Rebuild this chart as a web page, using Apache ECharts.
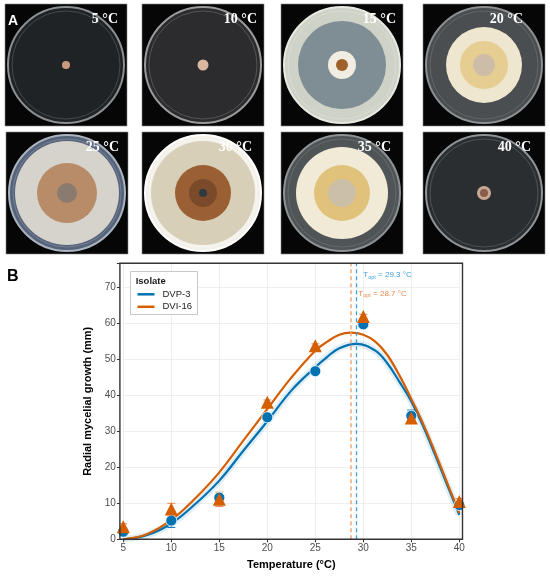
<!DOCTYPE html>
<html>
<head>
    <meta charset="UTF-8">
    <title>Radial mycelial growth</title>
    <script src="https://cdn.jsdelivr.net/npm/echarts@6/dist/echarts.min.js"></script>
    <style>
        html, body { margin: 0; padding: 0; background: #fff; }
    </style>
</head>
<body>
    <div id="main" style="width: 550px;height:577px;"></div>
    <script type="text/javascript">
        var temps = [5, 10, 15, 20, 25, 30, 35, 40];
        var dvp3Mean = [2.1, 5.2, 11.6, 33.9, 46.7, 59.7, 34.3, 9.5];
        var dvp3Sd = [0.6, 1.9, 0.6, 0.6, 0.6, 0.4, 1.6, 0.6];
        var dvi16Mean = [3.5, 8.4, 11.1, 38.1, 53.8, 61.9, 33.7, 10.5];
        var dvi16Sd = [0.8, 1.6, 2.0, 0.6, 0.5, 0.6, 0.5, 0.8];

        // 拟合曲线
        var fitTDvp3 = [5, 7.5, 10, 12.5, 15, 17.5, 20, 22.5, 25, 26.25, 27.5, 29.3, 31.25, 32.5, 33.75, 35, 36.25, 37.5, 38.75, 40];
        var fitDvp3 = [0, 1.2, 4.4, 9.8, 16.3, 24.6, 32.8, 41.3, 47.8, 50.7, 53.1, 54.3, 52.4, 48.9, 43.8, 38.3, 31.3, 23.3, 15.0, 6.8];
        var fitTDvi16 = [5, 7.5, 10, 12.5, 15, 17.5, 20, 22.5, 25, 26.25, 27.5, 28.7, 30, 31.25, 32.5, 33.75, 35, 36.25, 37.5, 38.75, 40];
        var fitDvi16 = [0, 1.5, 5.4, 11.4, 18.6, 27.4, 36.2, 44.9, 52.4, 54.9, 56.8, 57.4, 56.8, 54.9, 51.2, 45.6, 39.0, 32.0, 24.0, 15.6, 7.3];

        var toptDvp3 = 29.3;
        var toptDvi16 = 28.7;

        var xTicks = [5, 10, 15, 20, 25, 30, 35, 40];
        var yTicks = [0, 10, 20, 30, 40, 50, 60, 70];
        var plateLabels = ['5 °C', '10 °C', '15 °C', '20 °C', '25 °C', '30 °C', '35 °C', '40 °C'];

        var BLUE = '#0072B2';
        var ORANGE = '#D55E00';
        var FONT = 'Liberation Sans, Arial, sans-serif';

        function pairs(xs, ys) {
            return xs.map(function (x, i) { return [x, ys[i]]; });
        }
        function errData(means, sds) {
            return temps.map(function (t, i) { return [t, means[i] - sds[i], means[i] + sds[i]]; });
        }
        function errBar(color) {
            return function (params, api) {
                var lo = api.coord([api.value(0), api.value(1)]);
                var hi = api.coord([api.value(0), api.value(2)]);
                var w = 4;
                var st = { stroke: color, lineWidth: 1 };
                return {
                    type: 'group',
                    children: [
                        { type: 'line', shape: { x1: lo[0], y1: lo[1], x2: hi[0], y2: hi[1] }, style: st },
                        { type: 'line', shape: { x1: lo[0] - w, y1: lo[1], x2: lo[0] + w, y2: lo[1] }, style: st },
                        { type: 'line', shape: { x1: hi[0] - w, y1: hi[1], x2: hi[0] + w, y2: hi[1] }, style: st }
                    ]
                };
            };
        }

        // A 面板：培养皿照片的示意图
        var plateBoxes = [
            [5, 4], [142, 4], [281, 4], [423, 4],
            [6, 132], [142, 132], [281, 132], [423, 132]
        ];
        var plateStyle = [
            { dish: '#202326', rim: '#8a8f92', layers: [[4, '#c99a7d']], lx: 9 },
            { dish: '#2c2b2e', rim: '#9a9a9a', layers: [[5.5, '#d9b8a0']], lx: 7 },
            { dish: '#cfd2c6', rim: '#e8eae2', layers: [[44, '#7f8d95'], [14, '#f1ede2'], [6, '#a0602c']], lx: 7 },
            { dish: '#4a4e50', rim: '#8c8f90', layers: [[38, '#efe6cf'], [24, '#e6cd92'], [11, '#cdbda8']], lx: 22 },
            { dish: '#56637a', rim: '#aab4bf', layers: [[52, '#d6d2cc'], [30, '#b88c68'], [10, '#8a7a70']], lx: 9 },
            { dish: '#f3f1ea', rim: '#ffffff', layers: [[52, '#d7cfb8'], [28, '#9a6034'], [14, '#7a4a2a'], [4, '#2e3a40']], lx: 12 },
            { dish: '#4f5557', rim: '#8d9294', layers: [[46, '#f0ead6'], [28, '#e1c27a'], [14, '#cbbfa8']], lx: 12 },
            { dish: '#2b2e31', rim: '#8e9396', layers: [[7, '#c9a895'], [4, '#8a5d48']], lx: 14 }
        ];
        var PW = 122, PH = 122;
        var graphics = [];
        plateBoxes.forEach(function (b, i) {
            var s = plateStyle[i];
            var cx = b[0] + PW / 2, cy = b[1] + PH / 2;
            var kids = [
                { type: 'rect', shape: { x: b[0], y: b[1], width: PW, height: PH }, style: { fill: '#060606', stroke: '#888', lineWidth: 0.6 } },
                { type: 'circle', shape: { cx: cx, cy: cy, r: 58 }, style: { fill: s.dish, stroke: s.rim, lineWidth: 2 } },
                { type: 'circle', shape: { cx: cx, cy: cy, r: 54 }, style: { fill: 'none', stroke: s.rim, lineWidth: 0.6, opacity: 0.6 } }
            ];
            s.layers.forEach(function (l) {
                kids.push({ type: 'circle', shape: { cx: cx, cy: cy, r: l[0] }, style: { fill: l[1] } });
            });
            kids.push({
                type: 'text', x: b[0] + PW - s.lx, y: b[1] + 15,
                style: { text: plateLabels[i], fill: '#fff', font: 'bold 14px "Liberation Serif", serif', align: 'right', verticalAlign: 'middle' }
            });
            graphics.push({ type: 'group', children: kids });
        });
        graphics.push({ type: 'text', x: 8, y: 21, style: { text: 'A', fill: '#fff', font: 'bold 14px ' + FONT, verticalAlign: 'middle' }, z: 10 });
        graphics.push({ type: 'text', x: 7, y: 277, style: { text: 'B', fill: '#000', font: 'bold 16px ' + FONT, verticalAlign: 'middle' } });

        // 图框、图例框、Topt 注释
        graphics.push({ type: 'rect', shape: { x: 119.9, y: 263.3, width: 342.6, height: 276 }, style: { fill: 'none', stroke: '#333', lineWidth: 1.4 }, z: 20 });
        graphics.push({ type: 'rect', shape: { x: 130.5, y: 271.5, width: 67, height: 43 }, style: { fill: '#fff', stroke: '#c8c8c8', lineWidth: 1 }, z: 3 });
        graphics.push({ type: 'text', x: 135.7, y: 281, style: { text: 'Isolate', fill: '#1a1a1a', font: 'bold 9.5px ' + FONT, verticalAlign: 'middle' }, z: 4 });

        function toptText(val, color) {
            return {
                text: '{t|T}{s|opt}{t| = ' + val.toFixed(1) + ' °C}',
                rich: {
                    t: { fontSize: 8, fontFamily: FONT, fill: color, color: color },
                    s: { fontSize: 5.5, fontFamily: FONT, fill: color, color: color, verticalAlign: 'bottom', padding: [4, 0, 0, 0] }
                },
                verticalAlign: 'middle'
            };
        }
        graphics.push({ type: 'text', x: 363.3, y: 275, style: toptText(toptDvp3, '#3d9fe0'), z: 6 });
        graphics.push({ type: 'text', x: 358.3, y: 293.3, style: toptText(toptDvi16, '#ea8a4c'), z: 6 });

        var myChart = echarts.init(document.getElementById('main'));
        var option = {
            animation: false,
            textStyle: { fontFamily: FONT },
            grid: { left: 123.3, top: 263.3, width: 336, height: 276 },
            legend: {
                data: ['DVP-3', 'DVI-16'],
                orient: 'vertical',
                left: 137.5,
                top: 288.3,
                icon: 'rect',
                itemWidth: 17,
                itemHeight: 2.5,
                itemGap: 0.5,
                padding: 0,
                z: 5,
                textStyle: { fontSize: 9.5, color: '#1a1a1a', fontFamily: FONT, lineHeight: 12, padding: [0, 0, 0, 3] }
            },
            xAxis: {
                type: 'value',
                min: 5,
                max: 40,
                interval: 5,
                axisLine: { show: false },
                axisTick: { show: true, length: 3, lineStyle: { color: '#333' } },
                axisLabel: { fontSize: 10, color: '#4d4d4d', margin: 4, fontFamily: FONT },
                splitLine: { lineStyle: { color: '#ebebeb', width: 0.8 } },
                name: 'Temperature (°C)',
                nameLocation: 'middle',
                nameGap: 20,
                nameTextStyle: { fontSize: 11, fontWeight: 'bold', color: '#000', fontFamily: FONT }
            },
            yAxis: {
                type: 'value',
                min: 0,
                max: 76.67,
                interval: 10,
                offset: 3.4,
                axisLine: { show: false },
                axisTick: { show: true, length: 3, lineStyle: { color: '#333' } },
                axisLabel: {
                    fontSize: 10, color: '#4d4d4d', margin: 4, fontFamily: FONT,
                    formatter: function (v) { return yTicks.indexOf(v) >= 0 ? String(v) : ''; }
                },
                splitLine: { lineStyle: { color: '#ebebeb', width: 0.8 } },
                name: 'Radial mycelial growth (mm)',
                nameLocation: 'middle',
                nameGap: 21,
                nameTextStyle: { fontSize: 11, fontWeight: 'bold', color: '#000', fontFamily: FONT }
            },
            graphic: graphics,
            series: [
                {
                    name: 'band', type: 'line', data: pairs(fitTDvp3, fitDvp3), smooth: 0.4, symbol: 'none',
                    silent: true, z: 1, lineStyle: { color: 'rgba(0,114,178,0.12)', width: 7 }
                },
                {
                    name: 'DVP-3', type: 'line', data: pairs(fitTDvp3, fitDvp3), smooth: 0.4, symbol: 'none', z: 2,
                    itemStyle: { color: BLUE }, lineStyle: { color: BLUE, width: 2.2 },
                    markLine: {
                        symbol: 'none', silent: true, label: { show: false },
                        lineStyle: { color: '#3d9fe0', type: [4, 3], width: 1.3 },
                        data: [{ xAxis: toptDvp3 }]
                    }
                },
                {
                    name: 'DVI-16', type: 'line', data: pairs(fitTDvi16, fitDvi16), smooth: 0.4, symbol: 'none', z: 2,
                    itemStyle: { color: ORANGE }, lineStyle: { color: ORANGE, width: 2.2 },
                    markLine: {
                        symbol: 'none', silent: true, label: { show: false },
                        lineStyle: { color: '#f0a67a', type: [4, 3], width: 1.5 },
                        data: [{ xAxis: toptDvi16 }]
                    }
                },
                { name: 'DVP-3 sd', type: 'custom', renderItem: errBar(BLUE), data: errData(dvp3Mean, dvp3Sd), z: 3, clip: false, silent: true },
                { name: 'DVI-16 sd', type: 'custom', renderItem: errBar('#e58a55'), data: errData(dvi16Mean, dvi16Sd), z: 3, clip: false, silent: true },
                {
                    name: 'DVP-3 obs', type: 'scatter', data: pairs(temps, dvp3Mean), symbol: 'circle', symbolSize: 11, z: 4, clip: false,
                    itemStyle: { color: BLUE, borderColor: '#fff', borderWidth: 0.8, opacity: 1 }
                },
                {
                    name: 'DVI-16 obs', type: 'scatter', data: pairs(temps, dvi16Mean), symbol: 'triangle', symbolSize: 13, z: 5, clip: false,
                    itemStyle: { color: ORANGE, opacity: 1 }
                }
            ]
        };
        myChart.setOption(option);
    </script>
</body>
</html>
